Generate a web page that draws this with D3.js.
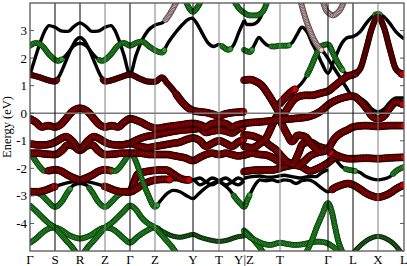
<!DOCTYPE html>
<html><head><meta charset="utf-8">
<script src="https://cdn.jsdelivr.net/npm/d3@7"></script>
<style>body{margin:0;background:#fff}svg{display:block}text{font-family:"Liberation Serif","Times New Roman",serif;fill:#000}</style>
</head><body>
<script>
// k-path positions of high-symmetry points and their labels
const kTicks = [0,25,50,75,100,125,163,189,214,250,298,323,348,374];
const kLabels = ["Γ","S","R","Z","Γ","Z","Y","T","Y|Z","T","Γ","L","X","L"];
const yTicks = [3,2,1,0,-1,-2,-3,-4];
const eRange = [-5,4];
// bands: [k, E(eV), dominant projection] ; k repeated => discontinuity (Y|Z)
const b01 = [[0,1.4,'k'],[6,2.1,'k'],[11,2.65,'k'],[15,3.0,'k'],[19,3.18,'k'],[25,3.12,'k'],[32,2.98,'k'],[38,2.97,'k'],[44,3.15,'k'],[50,3.28,'k'],[56,3.15,'k'],[62,2.97,'k'],[68,2.98,'k'],[75,3.12,'k'],[81,3.18,'k'],[85,3.0,'k'],[89,2.65,'k'],[94,2.1,'k'],[100,1.4,'k'],[106,2.1,'k'],[112,2.65,'k'],[118,3.0,'k'],[125,3.2,'k'],[133,3.3,'k'],[138,3.5,'p'],[143,3.8,'p'],[148,4.15,'p']];
const b02 = [[0,2.45,'g'],[6,2.55,'g'],[12,2.45,'g'],[20,2.1,'g'],[28,1.9,'g'],[36,2.1,'k'],[44,2.45,'k'],[50,2.54,'k'],[56,2.45,'k'],[64,2.1,'k'],[72,1.9,'g'],[80,2.1,'g'],[88,2.45,'g'],[94,2.55,'g'],[100,2.45,'g'],[106,2.55,'g'],[112,2.6,'g'],[120,2.4,'g'],[127,2.25,'g'],[132,2.2,'g'],[138,2.55,'k'],[145,2.9,'k'],[152,3.2,'k'],[158,3.4,'k'],[162,3.45,'k'],[167,3.25,'k'],[173,2.85,'k'],[178,2.55,'k'],[184,2.42,'k'],[189,2.5,'k'],[194,2.38,'g'],[198,2.3,'g'],[204,2.5,'k'],[209,2.95,'k'],[214,3.35,'k'],[214,3.4,'k'],[217,3.22,'k'],[222,3.22,'k'],[227,3.3,'k'],[232,3.6,'k'],[237,4.15,'k']];
const b03 = [[0,1.4,'d'],[10,1.3,'d'],[18,1.2,'d'],[25,1.15,'d'],[30,1.4,'k'],[36,1.9,'k'],[42,2.4,'k'],[46,2.65,'k'],[50,2.75,'k'],[54,2.65,'k'],[58,2.4,'k'],[64,1.9,'k'],[70,1.4,'k'],[75,1.15,'d'],[82,1.2,'d'],[90,1.3,'d'],[100,1.4,'d'],[110,1.25,'d'],[118,1.15,'d'],[125,1.14,'d'],[132,1.3,'d'],[137,1.1,'d'],[143,0.85,'d'],[148,0.6,'r'],[153,0.37,'r'],[158,0.2,'r'],[163,0.1,'r'],[170,0.05,'r'],[177,0.02,'r'],[183,-0.04,'r'],[189,-0.1,'r'],[195,-0.03,'r'],[202,0.02,'r'],[208,0.04,'r'],[214,0.05,'r']];
const b04 = [[0,-0.2,'r'],[6,-0.33,'r'],[12,-0.5,'r'],[18,-0.45,'r'],[25,-0.5,'r'],[31,-0.4,'r'],[36,-0.2,'r'],[42,0.05,'r'],[50,0.18,'r'],[58,0.05,'r'],[64,-0.2,'r'],[69,-0.4,'r'],[75,-0.5,'r'],[82,-0.45,'r'],[88,-0.5,'r'],[94,-0.33,'r'],[100,-0.2,'r'],[110,-0.31,'r'],[120,-0.49,'r'],[127,-0.55,'r'],[137,-0.49,'r'],[150,-0.43,'r'],[163,-0.37,'r'],[170,-0.42,'r'],[176,-0.5,'r'],[182,-0.38,'r'],[189,-0.35,'r'],[196,-0.38,'r'],[202,-0.5,'r'],[208,-0.42,'r'],[214,-0.37,'r'],[232,-0.31,'r'],[248,-0.25,'r'],[265,-0.19,'r'],[278,-0.13,'r'],[292,0.11,'r'],[298,0.3,'r'],[312,0.55,'r'],[323,0.62,'r'],[330,0.45,'r'],[336,0.2,'r'],[342,-0.1,'r'],[348,-0.2,'r'],[354,-0.1,'r'],[360,0.2,'r'],[366,0.4,'r'],[374,0.3,'r']];
const b05 = [[0,-1.1,'r'],[8,-1.15,'r'],[14,-1.15,'r'],[20,-1.12,'r'],[25,-1.05,'r'],[31,-0.92,'r'],[36,-0.85,'r'],[42,-1.0,'r'],[50,-1.3,'r'],[58,-1.0,'r'],[64,-0.85,'r'],[69,-0.92,'r'],[75,-1.05,'r'],[80,-1.12,'r'],[86,-1.15,'r'],[92,-1.15,'r'],[100,-1.1,'r'],[110,-1.2,'r'],[118,-1.25,'r'],[126,-1.2,'r'],[134,-1.15,'r'],[142,-1.1,'r'],[150,-1.05,'r'],[157,-0.95,'r'],[163,-0.9,'r'],[170,-1.0,'r'],[176,-1.2,'r'],[182,-1.1,'r'],[189,-1.0,'r'],[196,-1.1,'r'],[202,-1.2,'r'],[208,-1.05,'r'],[214,-0.95,'r'],[214,-0.79,'r'],[222,-0.82,'r'],[228,-0.9,'r'],[235,-1.03,'r'],[241,-1.2,'r'],[245,-1.3,'r'],[252,-1.58,'r'],[258,-1.78,'r'],[263,-1.82,'r'],[268,-1.5,'r'],[273,-1.1,'r'],[280,-1.05,'r'],[288,-1.2,'r'],[298,-1.34,'r'],[305,-1.65,'k'],[312,-1.95,'k'],[318,-2.05,'g'],[323,-2.08,'g'],[330,-2.15,'k'],[336,-2.3,'k'],[342,-2.38,'k'],[348,-2.42,'k'],[354,-2.38,'k'],[360,-2.3,'k'],[366,-2.1,'g'],[374,-1.95,'g']];
const b06 = [[0,-1.45,'r'],[8,-1.45,'r'],[15,-1.48,'r'],[25,-1.5,'r'],[32,-1.35,'r'],[38,-1.15,'r'],[44,-1.2,'r'],[50,-1.35,'r'],[56,-1.2,'r'],[62,-1.15,'r'],[68,-1.35,'r'],[75,-1.5,'r'],[85,-1.48,'r'],[92,-1.45,'r'],[100,-1.45,'r'],[110,-1.45,'r'],[120,-1.5,'r'],[130,-1.5,'r'],[137,-1.5,'r'],[145,-1.55,'r'],[155,-1.62,'r'],[163,-1.72,'r'],[170,-1.6,'r'],[176,-1.5,'r'],[182,-1.45,'r'],[189,-1.5,'r'],[196,-1.45,'r'],[202,-1.5,'r'],[208,-1.55,'r'],[214,-1.52,'r'],[222,-1.45,'r'],[230,-1.5,'r'],[236,-1.52,'r'],[242,-1.6,'r'],[250,-1.76,'r'],[256,-1.78,'r'],[262,-1.85,'r'],[268,-1.9,'r'],[274,-1.75,'r'],[280,-1.55,'r'],[286,-1.45,'r'],[292,-1.38,'r'],[298,-1.34,'r'],[305,-1.5,'r'],[312,-1.6,'r'],[318,-1.65,'r'],[323,-1.65,'r'],[336,-1.63,'r'],[348,-1.65,'r'],[360,-1.62,'r'],[374,-1.6,'r']];
const b07 = [[0,-1.45,'g'],[5,-1.7,'g'],[10,-1.95,'g'],[15,-2.1,'g'],[20,-2.08,'r'],[25,-2.05,'r'],[31,-2.1,'r'],[38,-2.25,'r'],[44,-2.35,'r'],[50,-2.42,'r'],[56,-2.35,'r'],[62,-2.25,'r'],[69,-2.1,'r'],[75,-2.05,'r'],[80,-2.08,'r'],[85,-2.1,'g'],[90,-1.95,'g'],[95,-1.7,'g'],[100,-1.45,'g'],[104,-1.6,'g'],[108,-1.95,'g'],[112,-2.4,'g'],[118,-2.95,'g'],[125,-3.4,'g'],[130,-3.2,'k'],[136,-2.95,'k'],[143,-2.8,'k'],[150,-2.85,'k'],[157,-3.0,'k'],[163,-3.1,'k'],[168,-2.95,'k'],[174,-2.75,'k'],[180,-2.6,'k'],[186,-2.5,'k'],[189,-2.5,'k'],[194,-2.6,'k'],[200,-2.8,'k'],[206,-3.1,'g'],[211,-3.3,'g'],[214,-3.4,'g'],[218,-3.1,'g'],[222,-2.8,'k'],[226,-2.55,'k'],[230,-2.42,'k'],[236,-2.45,'k'],[242,-2.42,'k'],[248,-2.48,'k'],[254,-2.42,'k'],[260,-2.45,'k'],[266,-2.55,'k'],[272,-2.45,'k'],[278,-2.42,'k'],[284,-2.5,'k'],[290,-2.67,'k'],[298,-2.85,'k'],[305,-2.7,'r'],[312,-2.6,'r'],[318,-2.55,'r'],[323,-2.6,'r'],[330,-2.75,'r'],[336,-2.9,'r'],[342,-3.0,'r'],[348,-3.05,'r'],[354,-3.0,'r'],[360,-2.9,'r'],[366,-2.75,'r'],[374,-2.6,'r']];
const b08 = [[0,-2.85,'r'],[8,-2.85,'r'],[15,-2.8,'r'],[22,-2.7,'r'],[30,-2.6,'k'],[38,-2.52,'k'],[44,-2.48,'k'],[50,-2.47,'k'],[56,-2.48,'k'],[62,-2.52,'k'],[70,-2.6,'k'],[78,-2.7,'r'],[85,-2.8,'r'],[92,-2.85,'r'],[100,-2.85,'r'],[106,-2.75,'r'],[112,-2.6,'r'],[118,-2.5,'r'],[126,-2.42,'r'],[135,-2.4,'r'],[145,-2.42,'k'],[155,-2.42,'k'],[163,-2.42,'k'],[170,-2.35,'k'],[176,-2.5,'k'],[182,-2.6,'k'],[189,-2.45,'k'],[196,-2.35,'k'],[202,-2.5,'k'],[208,-2.6,'k'],[214,-2.45,'k'],[214,-2.12,'r'],[228,-2.06,'r'],[242,-2.06,'r'],[255,-1.94,'r'],[265,-1.88,'r'],[272,-1.95,'r'],[280,-2.1,'r'],[288,-2.0,'r'],[298,-1.8,'r'],[305,-1.62,'r'],[312,-1.6,'r']];
const b09 = [[0,-2.85,'r'],[6,-2.88,'k'],[12,-2.98,'g'],[18,-3.2,'g'],[25,-3.4,'g'],[32,-3.2,'g'],[38,-2.85,'g'],[44,-2.6,'k'],[50,-2.55,'k'],[56,-2.6,'k'],[62,-2.85,'g'],[68,-3.2,'g'],[75,-3.4,'g'],[82,-3.2,'g'],[88,-2.98,'g'],[94,-2.88,'k'],[100,-2.85,'r'],[104,-2.5,'r'],[108,-2.2,'r'],[116,-2.12,'r'],[123,-2.08,'r'],[130,-2.06,'r'],[136,-2.06,'r'],[143,-2.2,'r'],[150,-2.36,'r'],[157,-2.42,'r'],[163,-2.42,'k'],[170,-2.6,'k'],[176,-2.5,'k'],[182,-2.35,'k'],[189,-2.45,'k'],[196,-2.6,'k'],[202,-2.5,'k'],[208,-2.35,'k'],[214,-2.45,'k'],[214,-2.36,'k'],[222,-2.3,'k'],[230,-2.28,'k'],[238,-2.32,'k'],[246,-2.3,'k'],[254,-2.25,'k'],[262,-2.3,'k'],[270,-2.35,'k'],[278,-2.3,'k'],[286,-2.3,'k'],[292,-2.15,'k'],[298,-2.05,'k']];
const b10 = [[0,-3.35,'g'],[6,-3.55,'g'],[13,-3.8,'g'],[19,-4.0,'g'],[25,-4.15,'g'],[31,-4.4,'g'],[37,-4.65,'g'],[42,-4.85,'g'],[46,-5.05,'g'],[50,-5.25,'g'],[54,-5.05,'g'],[58,-4.85,'g'],[63,-4.65,'g'],[69,-4.4,'g'],[75,-4.15,'g'],[81,-4.0,'g'],[87,-3.8,'g'],[94,-3.55,'g'],[100,-3.35,'g'],[106,-3.5,'g'],[112,-3.8,'g'],[118,-4.0,'g'],[125,-4.15,'g'],[130,-4.35,'g'],[136,-4.6,'g'],[142,-4.85,'g'],[146,-5.05,'g'],[150,-5.25,'g']];
const b11 = [[0,-4.7,'g'],[6,-4.55,'g'],[12,-4.35,'g'],[18,-4.2,'g'],[25,-4.15,'g'],[32,-4.25,'g'],[38,-4.4,'g'],[44,-4.5,'g'],[50,-4.55,'g'],[56,-4.5,'g'],[62,-4.4,'g'],[68,-4.25,'g'],[75,-4.15,'g'],[82,-4.2,'g'],[88,-4.35,'g'],[94,-4.55,'g'],[100,-4.7,'g'],[107,-4.5,'g'],[115,-4.3,'g'],[125,-4.15,'g'],[133,-4.3,'h'],[142,-4.45,'h'],[150,-4.5,'h'],[157,-4.45,'h'],[163,-4.4,'h'],[170,-4.5,'h'],[180,-4.6,'h'],[189,-4.65,'h'],[198,-4.6,'h'],[206,-4.5,'h'],[214,-4.45,'h']];
const b12 = [[214,-4.25,'g'],[220,-4.45,'g'],[226,-4.7,'g'],[230,-4.88,'g'],[234,-5.1,'g']];
const b13 = [[214,-4.3,'g'],[220,-4.5,'g'],[226,-4.62,'g'],[232,-4.72,'g'],[240,-4.78,'g'],[250,-4.7,'g'],[258,-4.75,'g'],[265,-4.78,'g'],[272,-4.76,'g'],[280,-4.7,'g'],[288,-4.66,'g'],[296,-4.7,'g'],[302,-4.82,'g'],[308,-5.0,'g'],[312,-5.2,'g']];
const b14 = [[272,-5.3,'g'],[277,-5.0,'g'],[282,-4.6,'g'],[287,-4.12,'g'],[292,-3.7,'g'],[298,-3.26,'g'],[302,-3.6,'g'],[305,-4.12,'g'],[308,-4.6,'g'],[312,-5.0,'g'],[316,-5.3,'g']];
const b15 = [[318,-5.3,'h'],[325,-5.0,'h'],[332,-4.75,'h'],[340,-4.55,'h'],[348,-4.47,'h'],[356,-4.55,'h'],[364,-4.75,'h'],[370,-5.0,'h'],[376,-5.3,'h']];
const b16 = [[214,2.3,'g'],[220,2.22,'g'],[224,2.45,'k'],[229,2.75,'k'],[233,2.6,'k'],[238,2.45,'k'],[244,2.42,'g'],[250,2.45,'g'],[257,2.45,'g'],[262,2.55,'k'],[267,2.85,'k'],[272,3.12,'k'],[277,2.95,'k'],[282,2.55,'k'],[287,2.2,'k'],[292,1.8,'k'],[298,1.45,'k'],[305,2.0,'k'],[312,2.55,'k'],[318,2.75,'k'],[323,2.78,'k'],[330,2.95,'k'],[336,3.25,'k'],[342,3.5,'k'],[348,3.6,'g'],[354,3.5,'k'],[360,3.25,'k'],[366,2.95,'k'],[374,2.7,'k']];
const b17 = [[203,4.15,'g'],[208,3.85,'g'],[214,3.65,'g'],[220,3.55,'g'],[226,3.55,'g'],[233,3.7,'g'],[238,4.15,'g']];
const b18 = [[155,4.15,'g'],[159,3.82,'g'],[163,3.68,'g'],[167,3.82,'g'],[172,4.15,'g']];
const b20 = [[214,1.2,'r'],[220,1.22,'r'],[226,1.15,'r'],[232,1.0,'r'],[238,0.7,'r'],[244,0.35,'r'],[249,0.05,'r'],[253,-0.05,'r'],[258,0.2,'r'],[264,0.5,'r'],[270,0.62,'r'],[276,0.65,'r'],[282,0.65,'r'],[288,0.7,'r'],[293,0.75,'r'],[298,0.8,'r'],[305,1.0,'r'],[312,1.2,'r'],[318,1.35,'r'],[323,1.4,'r'],[330,1.6,'d'],[336,2.3,'d'],[342,3.1,'d'],[348,3.5,'d'],[354,3.1,'d'],[360,2.3,'d'],[366,1.6,'d'],[374,1.4,'r']];
const b21 = [[250,0.35,'r'],[256,0.6,'r'],[262,0.8,'r'],[268,0.95,'k'],[274,1.2,'k'],[280,1.6,'g'],[286,2.1,'g'],[292,2.45,'g'],[298,2.5,'g'],[304,2.1,'g'],[310,1.7,'g'],[316,1.45,'k'],[323,1.4,'k']];
const b22 = [[270,4.15,'p'],[275,3.5,'p'],[280,3.0,'p'],[285,2.6,'p'],[290,2.35,'p'],[295,2.15,'k'],[302,1.75,'k'],[310,1.3,'k'],[316,0.95,'k'],[323,0.6,'k'],[330,0.55,'k'],[336,0.4,'k'],[342,0.15,'k'],[348,0.05,'k'],[354,0.15,'k'],[360,0.4,'k'],[366,0.55,'k'],[374,0.55,'k']];
const b23 = [[292,4.15,'p'],[296,3.75,'p'],[300,3.6,'p'],[303,3.55,'p'],[306,3.6,'p'],[310,3.75,'p'],[315,4.15,'p']];
const b25 = [[214,-1.2,'r'],[222,-1.25,'r'],[230,-1.1,'r'],[236,-0.9,'r'],[242,-0.45,'r'],[246,-0.15,'r'],[248,-0.07,'r'],[252,-0.4,'r'],[257,-0.75,'r'],[262,-1.03,'r'],[268,-0.8,'r'],[275,-0.85,'r'],[282,-1.15,'r'],[292,-1.4,'r'],[298,-1.28,'r'],[305,-0.9,'r'],[312,-0.7,'r'],[318,-0.6,'r'],[323,-0.5,'r'],[336,-0.45,'r'],[348,-0.48,'r'],[360,-0.45,'r'],[374,-0.45,'r']];
const b26 = [[100,-1.1,'r'],[108,-0.95,'r'],[116,-0.85,'r'],[124,-0.8,'r'],[132,-0.74,'r'],[140,-0.68,'r'],[150,-0.62,'r'],[163,-0.58,'r'],[170,-0.55,'r'],[176,-0.7,'r'],[182,-0.65,'r'],[189,-0.62,'r'],[196,-0.65,'r'],[202,-0.72,'r'],[208,-0.58,'r'],[214,-0.5,'r']];
const bands = [b01,b02,b03,b16,b17,b18,b20,b21,b22,b23,b11,b10,b12,b13,b14,b15,b09,b08,b07,b06,b05,b26,b25,b04];

const W = 407, H = 266;
const svg = d3.select("body").append("svg").attr("width", W).attr("height", H);
const x = d3.scaleLinear().domain([kTicks[0], kTicks[kTicks.length-1]]).range([30, 404]);
const y = d3.scaleLinear().domain(eRange).range([251, 3]);

svg.append("defs").append("clipPath").attr("id","clip")
  .append("rect").attr("x",30).attr("y",3).attr("width",374).attr("height",248);
const plot = svg.append("g").attr("clip-path","url(#clip)");

const markerStyle = {
  r:{r:3.5, fill:"#cc0000", stroke:"#000", sw:0.75},
  d:{r:2.8, fill:"#800000", stroke:"#000", sw:0.6},
  g:{r:2.6, fill:"#2ca02c", stroke:"#001a00", sw:0.6},
  h:{r:2.2, fill:"#1f7a1f", stroke:"#000", sw:0.6},
  p:{r:2.6, fill:"#e9cccc", stroke:"#3a2626", sw:0.7}
};

function pieces(band){
  const out = []; let cur = [band[0]];
  for (let i=1;i<band.length;i++){
    if (band[i][0] <= band[i-1][0]) { out.push(cur); cur = [band[i]]; }
    else cur.push(band[i]);
  }
  out.push(cur); return out;
}
const line = d3.line().x(d=>x(d[0])).y(d=>y(d[1])).curve(d3.curveMonotoneX);

// base black lines
bands.forEach(b => pieces(b).forEach(p => {
  plot.append("path").attr("d", line(p)).attr("fill","none")
    .attr("stroke","#000").attr("stroke-width",3.4).attr("stroke-linejoin","round");
}));
// projection markers sampled along each band
bands.forEach(b => pieces(b).forEach(p => {
  const path = plot.append("path").attr("d", line(p)).attr("fill","none").attr("stroke","none");
  const node = path.node(); const L = node.getTotalLength();
  const ks = p.map(d=>d[0]);
  const gg = plot.append("g");
  for (let s=0; s<=L; s+=1.6){
    const pt = node.getPointAtLength(s);
    const kk = x.invert(pt.x);
    let i = d3.bisectLeft(ks, kk);
    if (i >= ks.length) i = ks.length-1;
    if (i > 0 && Math.abs(ks[i-1]-kk) < Math.abs(ks[i]-kk)) i = i-1;
    const st = markerStyle[p[i][2]];
    if (!st) continue;
    gg.append("circle").attr("cx",pt.x).attr("cy",pt.y).attr("r",st.r)
      .attr("fill",st.fill).attr("stroke",st.stroke).attr("stroke-width",st.sw);
  }
  path.remove();
}));

// Fermi level
svg.append("line").attr("x1",x(kTicks[0])).attr("x2",x(kTicks[kTicks.length-1]))
  .attr("y1",y(0)).attr("y2",y(0)).attr("stroke","#7a7a7a").attr("stroke-width",1.5);
// high-symmetry vertical lines
const greyIdx = new Set([3,5,7,9,12]);
kTicks.slice(1,-1).forEach((k,j) => {
  const i = j+1;
  svg.append("line").attr("x1",x(k)).attr("x2",x(k)).attr("y1",y(eRange[1])).attr("y2",y(eRange[0]))
    .attr("stroke", greyIdx.has(i) ? "#808080" : "#000").attr("stroke-width",1);
});
// frame
svg.append("rect").attr("x",30).attr("y",3).attr("width",374).attr("height",248)
  .attr("fill","none").attr("stroke","#555").attr("stroke-width",1.3);
// y ticks (inward, both sides) and labels
yTicks.forEach(v => {
  svg.append("line").attr("x1",30).attr("x2",34).attr("y1",y(v)).attr("y2",y(v)).attr("stroke","#555");
  svg.append("line").attr("x1",400).attr("x2",404).attr("y1",y(v)).attr("y2",y(v)).attr("stroke","#555");
  svg.append("text").attr("x",27).attr("y",y(v)).attr("dy","0.35em").attr("text-anchor","end")
    .attr("font-size",13).text(String(v));
});
// x labels
kTicks.forEach((k,i) => {
  svg.append("text").attr("x",x(k)).attr("y",264).attr("text-anchor","middle")
    .attr("font-size",13).text(kLabels[i]);
});
// y title
svg.append("text").attr("transform","translate(11,127) rotate(-90)").attr("text-anchor","middle")
  .attr("font-size",12.5).text("Energy (eV)");
</script>
</body></html>
